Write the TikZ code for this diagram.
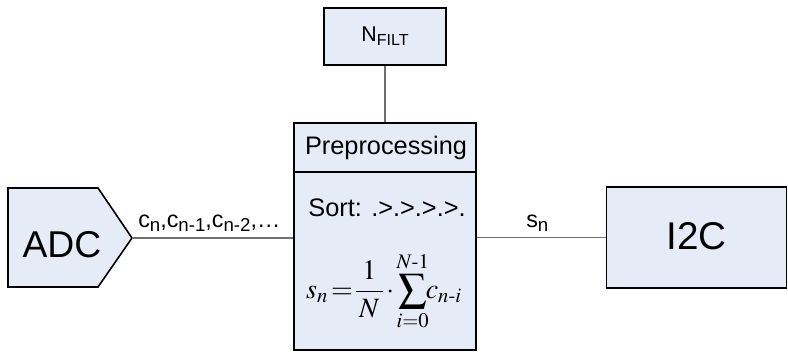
\documentclass[tikz,border=0pt]{standalone}
\usepackage{amsmath}
\usepackage{mathptmx}
\usepackage{fontspec}
\setmainfont{Liberation Sans}
\usetikzlibrary{calc}
\definecolor{boxfill}{RGB}{230,236,247}
\definecolor{wire}{RGB}{110,110,110}
\newcommand{\mysub}[1]{\raisebox{-0.25ex}{\fontsize{14}{15}\selectfont #1}}
\newcommand{\hy}{\text{\fontencoding{OT1}\fontfamily{ptm}\selectfont -}}
\tikzset{
  blk/.style={draw=black,line width=1.2pt,fill=boxfill,inner sep=0pt},
  sepline/.style={draw=black,line width=0.9pt},
  conn/.style={draw=wire,line width=0.8pt},
  lbl/.style={font=\fontsize{17.5}{20}\selectfont,inner sep=0pt}
}
\begin{document}
\begin{tikzpicture}[x=0.75pt,y=-0.75pt]
\useasboundingbox (0,0) rectangle (788,352);
% ADC pentagon
\path[blk] (8,188) -- (98,188) -- (132,238) -- (98,287) -- (8,287) -- cycle;
\node[anchor=base,inner sep=0pt,font=\fontsize{28}{30}\selectfont] (adc) at (62,258) {ADC};
\coordinate (adctip) at (132,238);
% N_FILT box
\node[blk,minimum width={122*0.75pt},minimum height={57*0.75pt}] (nfilt) at (385,36.5) {};
\node[anchor=base,inner sep=0pt,font=\fontsize{16}{18}\selectfont] (nfiltlbl) at (385,42) {N\raisebox{-0.3ex}{\fontsize{12}{13}\selectfont FILT}};
% Preprocessing box
\node[blk,minimum width={182*0.75pt},minimum height={227*0.75pt}] (pre) at (385,236.5) {};
\draw[sepline] (pre.west |- 0,172) -- (pre.east |- 0,172);
\node[anchor=base,inner sep=0pt,font=\fontsize{19}{22}\selectfont] (pretitle) at (386,155) {Preprocessing};
\node[anchor=base,inner sep=0pt,font=\fontsize{19}{22}\selectfont] (sort) at (387,217) {Sort: .>.>.>.>.};
\node[inner sep=0pt,font=\fontsize{21}{26}\selectfont] (formula) at (384,291) {$\displaystyle s_n\mkern-2mu=\mkern-3mu\frac{\;1\;}{N}\mkern-1mu\cdot\mkern-1mu\sum_{i=0}^{N\hy 1}\mkern-4mu c_{n\hy i}$};
% I2C box
\node[blk,minimum width={180*0.75pt},minimum height={101*0.75pt}] (i2c) at (696.5,237.5) {};
\node[anchor=base,inner sep=0pt,font=\fontsize{29}{32}\selectfont] (i2clbl) at (696.5,250) {I2C};
% connectors
\draw[conn] (adctip) -- (adctip -| pre.west);
\draw[conn] (nfilt.south) -- (pre.north);
\draw[conn] (pre.east |- i2c.west) -- (i2c.west);
% labels
\node[lbl,anchor=base west] (clbl) at (138,228) {c\mysub{n},c\mysub{n-1},c\mysub{n-2},\dots};
\node[lbl,anchor=base west] (slbl) at (526,228) {s\mysub{n}};
\end{tikzpicture}
\end{document}
